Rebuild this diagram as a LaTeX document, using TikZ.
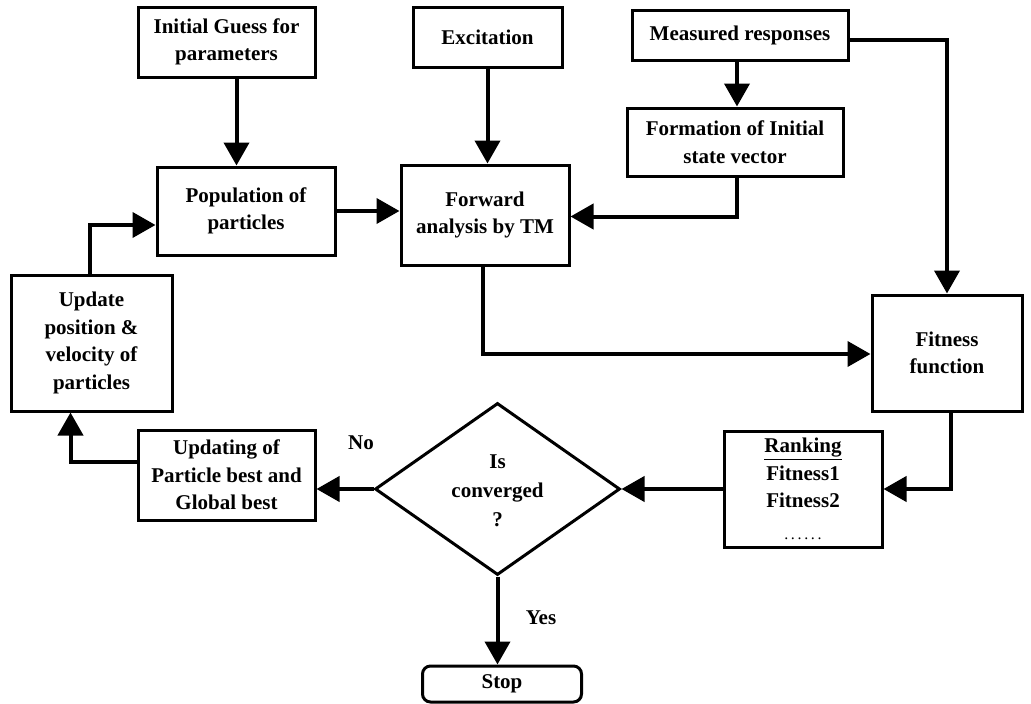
\documentclass[tikz,border=0pt]{standalone}
\usepackage{fontspec}
\setmainfont{Liberation Serif}
\usetikzlibrary{arrows.meta,shapes.geometric,calc}
\begin{document}
\begin{tikzpicture}[x=1pt,y=-1pt,
  box/.style={draw,line width=3pt,align=center,font=\fontsize{21}{27.5}\selectfont\bfseries,inner sep=0pt},
  arr/.style={line width=4pt,-{Triangle[length=23pt,width=25pt]}},
  lbl/.style={font=\fontsize{21}{24}\selectfont\bfseries}]
\useasboundingbox[fill=white] (0,0) rectangle (1031,704);
\node[box,minimum width=177pt,minimum height=70pt] (guess) at (226.5,42) {Initial Guess for\\parameters};
\node[box,minimum width=149pt,minimum height=60pt] (excit) at (487.5,37) {Excitation};
\node[box,minimum width=216pt,minimum height=50pt] (meas) at (740,35) {Measured responses};
\node[box,minimum width=216pt,minimum height=68pt] (form) at (735,142) {Formation of Initial\\state vector};
\node[box,minimum width=178pt,minimum height=88pt] (pop) at (246,211) {Population of\\particles};
\node[box,minimum width=168pt,minimum height=100pt] (fwd) at (485,215) {Forward\\analysis by TM};
\node[box,minimum width=161pt,minimum height=136pt] (upd) at (91.5,343) {Update\\position \&\\velocity of\\particles};
\node[box,minimum width=150pt,minimum height=116pt] (fit) at (947,353) {Fitness\\function};
\node[box,minimum width=158pt,minimum height=116pt] (rank) at (803,489) {\underline{Ranking}\\Fitness1\\Fitness2\\[4pt]{\mdseries\fontsize{16}{16}\selectfont .\,.\,.\,.\,.\,.}};
\node[box,minimum width=177pt,minimum height=90pt] (updg) at (226.5,475) {Updating of\\Particle best and\\Global best};
\node[box,diamond,minimum width=245pt,minimum height=172pt,aspect=1.42] (conv) at (497.5,489) {};
\node[font=\fontsize{21}{29}\selectfont\bfseries,align=center] at (497.5,491) {Is\\converged\\?};
\node[box,rounded corners=8pt,minimum width=159pt,minimum height=36pt] (stop) at (502,684) {Stop};
\node[lbl] at (361,443) {No};
\node[lbl] at (541,618) {Yes};
% connectors
\draw[arr] ([xshift=10pt]guess.south) -- ([xshift=10pt]guess.south |- pop.north);
\draw[arr] (excit.south) -- (excit.south |- fwd.north);
\draw[arr] ([xshift=-3pt]meas.south) -- ([xshift=-3pt]meas.south |- form.north);
\draw[arr] ([xshift=2pt]form.south) -- ++(0,39) coordinate (c1) -- (c1 -| fwd.east);
\draw[arr] ([yshift=-5pt]meas.east) -| (fit.north);
\draw[arr] (pop.east) -- (pop.east -| fwd.west);
\draw[arr] ([xshift=-2pt]fwd.south) |- ([yshift=-1pt]fit.west);
\draw[arr] ([xshift=4pt]fit.south) |- (rank.east);
\draw[arr] (rank.west) -- (conv.east);
\draw[arr] (conv.west) -- (conv.west -| updg.east);
\draw[arr] ([yshift=13pt]updg.west) -| ([xshift=-21pt]upd.south);
\draw[arr] ([xshift=-2pt]upd.north) |- ([yshift=-14pt]pop.west);
\draw[arr] (conv.south) -- (conv.south |- stop.north);
\end{tikzpicture}
\end{document}
